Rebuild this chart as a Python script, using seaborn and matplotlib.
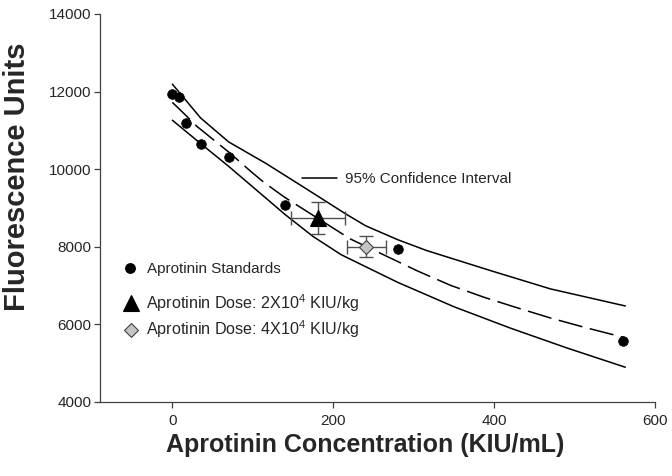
import numpy as np
import pandas as pd
import seaborn as sns
import matplotlib.pyplot as plt
from matplotlib.lines import Line2D

# Padrões de aprotinina (pontos pretos)
std_conc = [0, 8.75, 17.5, 35, 70, 140, 280, 560]
std_fluor = [11940, 11860, 11200, 10640, 10310, 9080, 7930, 5570]

# Doses (média +- erro)
dose_labels = ['2X10$^{\\mathregular{4}}$', '4X10$^{\\mathregular{4}}$']
dose_conc = [181, 241]
dose_conc_err = [33, 24]
dose_fluor = [8740, 8000]
dose_fluor_err = [420, 265]

# Curva ajustada (tracejada)
fit_x = [0, 15, 30, 55, 70, 98, 113, 139, 221, 305, 346, 388, 429, 470, 512, 561]
fit_y = [11720, 11420, 11110, 10690, 10440, 9930, 9670, 9280, 8200, 7370, 7000, 6690, 6420, 6160, 5920, 5660]

# Intervalo de confiança 95%
ci_hi_x = [0, 35, 70, 116, 165, 215, 240, 280, 316, 395, 470, 563]
ci_hi_y = [12190, 11320, 10700, 10150, 9510, 8850, 8540, 8180, 7900, 7385, 6910, 6470]
ci_lo_x = [0, 35, 70, 105, 140, 175, 210, 280, 350, 420, 490, 563]
ci_lo_y = [11260, 10660, 10070, 9450, 8830, 8260, 7790, 7080, 6450, 5900, 5390, 4890]

sns.set_style('ticks')
plt.rcParams['font.family'] = ['Liberation Sans', 'DejaVu Sans']
plt.rcParams['mathtext.fontset'] = 'custom'
plt.rcParams['mathtext.rm'] = 'Liberation Sans'

fig = plt.figure(figsize=(6.72, 4.76), dpi=100)
ax = fig.add_axes([0.1488, 0.156, 0.826, 0.8146])

fit_df = pd.DataFrame({'x': fit_x, 'y': fit_y})
hi_df = pd.DataFrame({'x': ci_hi_x, 'y': ci_hi_y})
lo_df = pd.DataFrame({'x': ci_lo_x, 'y': ci_lo_y})

sns.lineplot(data=hi_df, x='x', y='y', ax=ax, color='black', lw=1.1)
sns.lineplot(data=lo_df, x='x', y='y', ax=ax, color='black', lw=1.1)
sns.lineplot(data=fit_df, x='x', y='y', ax=ax, color='black', lw=1.1)
ax.lines[-1].set_dashes([16, 5])

sns.scatterplot(x=std_conc, y=std_fluor, ax=ax, color='black', s=48, edgecolor='black', zorder=5)

# Doses com barras de erro
markers = ['^', 'D']
faces = ['black', '#c4c4c4']
sizes = [11, 7.6]
for i in range(2):
    ax.errorbar(dose_conc[i], dose_fluor[i], xerr=dose_conc_err[i], yerr=dose_fluor_err[i],
                fmt='none', ecolor='#505050', elinewidth=1, capsize=5, zorder=4)
    ax.plot(dose_conc[i], dose_fluor[i], marker=markers[i], ms=sizes[i], color=faces[i],
            mec='#404040' if i == 1 else 'black', mew=0.8, ls='none', zorder=6)

ax.set_xlim(-90, 600)
ax.set_ylim(4000, 14000)
ax.set_xticks([0, 200, 400, 600])
ax.set_yticks(np.arange(4000, 14001, 2000))
ax.tick_params(labelsize=11, length=4, width=0.9, color='#404040', pad=2)
ax.tick_params(axis='x', pad=5)
for s in ['left', 'bottom']:
    ax.spines[s].set_color('#404040')
    ax.spines[s].set_linewidth(0.9)
sns.despine(ax=ax)

ax.set_xlabel('Aprotinin Concentration (KIU/mL)', fontsize=18, fontweight='bold')
ax.set_ylabel('Fluorescence Units', fontsize=21, fontweight='bold')
ax.yaxis.set_label_coords(-0.125, 0.58)
ax.xaxis.set_label_coords(0.478, -0.08)

# Legendas
leg1 = ax.legend(handles=[Line2D([], [], color='black', lw=1.1)], labels=['95% Confidence Interval'],
                 loc='center left', bbox_to_anchor=(0.3634, 0.5736), frameon=False, fontsize=11,
                 borderpad=0, borderaxespad=0, handlelength=2.3, handletextpad=0.55)
ax.add_artist(leg1)
leg2 = ax.legend(handles=[Line2D([], [], marker='o', color='black', ms=6.8, ls='none')],
                 labels=['Aprotinin Standards'], loc='center left', bbox_to_anchor=(0.0404, 0.3415),
                 frameon=False, fontsize=11, borderpad=0, borderaxespad=0, handlelength=1,
                 handletextpad=0.59)
ax.add_artist(leg2)
dose_handles = [Line2D([], [], marker=markers[i], ms=sizes[i], color=faces[i],
                       mec='#404040' if i == 1 else 'black', mew=0.8, ls='none') for i in range(2)]
ax.legend(handles=dose_handles, labels=['Aprotinin Dose: ' + d + ' KIU/kg' for d in dose_labels],
          loc='center left', bbox_to_anchor=(0.0422, 0.2205), frameon=False, fontsize=11.6,
          borderpad=0, borderaxespad=0, handlelength=1, handletextpad=0.4, labelspacing=0.3)

fig.savefig('out.png', dpi=100)
